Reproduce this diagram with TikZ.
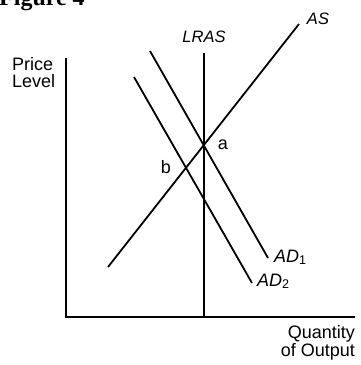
\documentclass[tikz,border=0pt]{standalone}
\usepackage{fontspec}
\setmainfont{Liberation Sans}
\newfontfamily\figfont{Liberation Serif}
\begin{document}
\begin{tikzpicture}[x=1pt,y=-1pt,
  axis/.style={line width=2.6pt},
  curve/.style={line width=1.8pt},
  lbl/.style={font=\fontsize{18}{15}\selectfont, inner sep=0pt},
  ilbl/.style={font=\fontsize{16.5}{19}\selectfont\itshape, inner sep=0pt}]
\useasboundingbox (0,0) rectangle (360,365);
% axes
\coordinate (ytop) at (66,58);
\coordinate (orig) at (66,317);
\coordinate (xend) at (355,317);
\draw[axis] (ytop) -- (orig) -- (xend);
% curves
\coordinate (lrasT) at (204,53);
\coordinate (lrasB) at (204,317);
\draw[curve] (lrasT) -- (lrasB);
\coordinate (asB) at (108,267);
\coordinate (asT) at (299,24);
\draw[curve] (asB) -- (asT);
\coordinate (ad1T) at (150,51);
\coordinate (ad1B) at (268,258);
\draw[curve] (ad1T) -- (ad1B);
\coordinate (ad2T) at (134,77);
\coordinate (ad2B) at (252,283);
\draw[curve] (ad2T) -- (ad2B);
% labels
\node[font=\figfont\bfseries\fontsize{24}{28}\selectfont, anchor=base west, inner sep=0pt] (fig) at (-1,5.5) {Figure 4};
\node[font=\fontsize{18}{17.5}\selectfont, inner sep=0pt, anchor=north west, align=left] (plabel) at (12,57) {Price\\Level};
\node[ilbl] (lras) at (204,37) {LRAS};
\node[ilbl] (as) at (318,19) {AS};
\node[lbl, anchor=base west] (ad1) at (274,262) {\textit{AD}\textsubscript{1}};
\node[lbl, anchor=base west] (ad2) at (257,286) {\textit{AD}\textsubscript{2}};
\node[lbl] (a) at (223,145) {a};
\node[lbl] (b) at (166,167) {b};
\node[lbl, anchor=north east, align=right] (qlabel) at (355,325) {Quantity\\of Output};
\end{tikzpicture}
\end{document}
